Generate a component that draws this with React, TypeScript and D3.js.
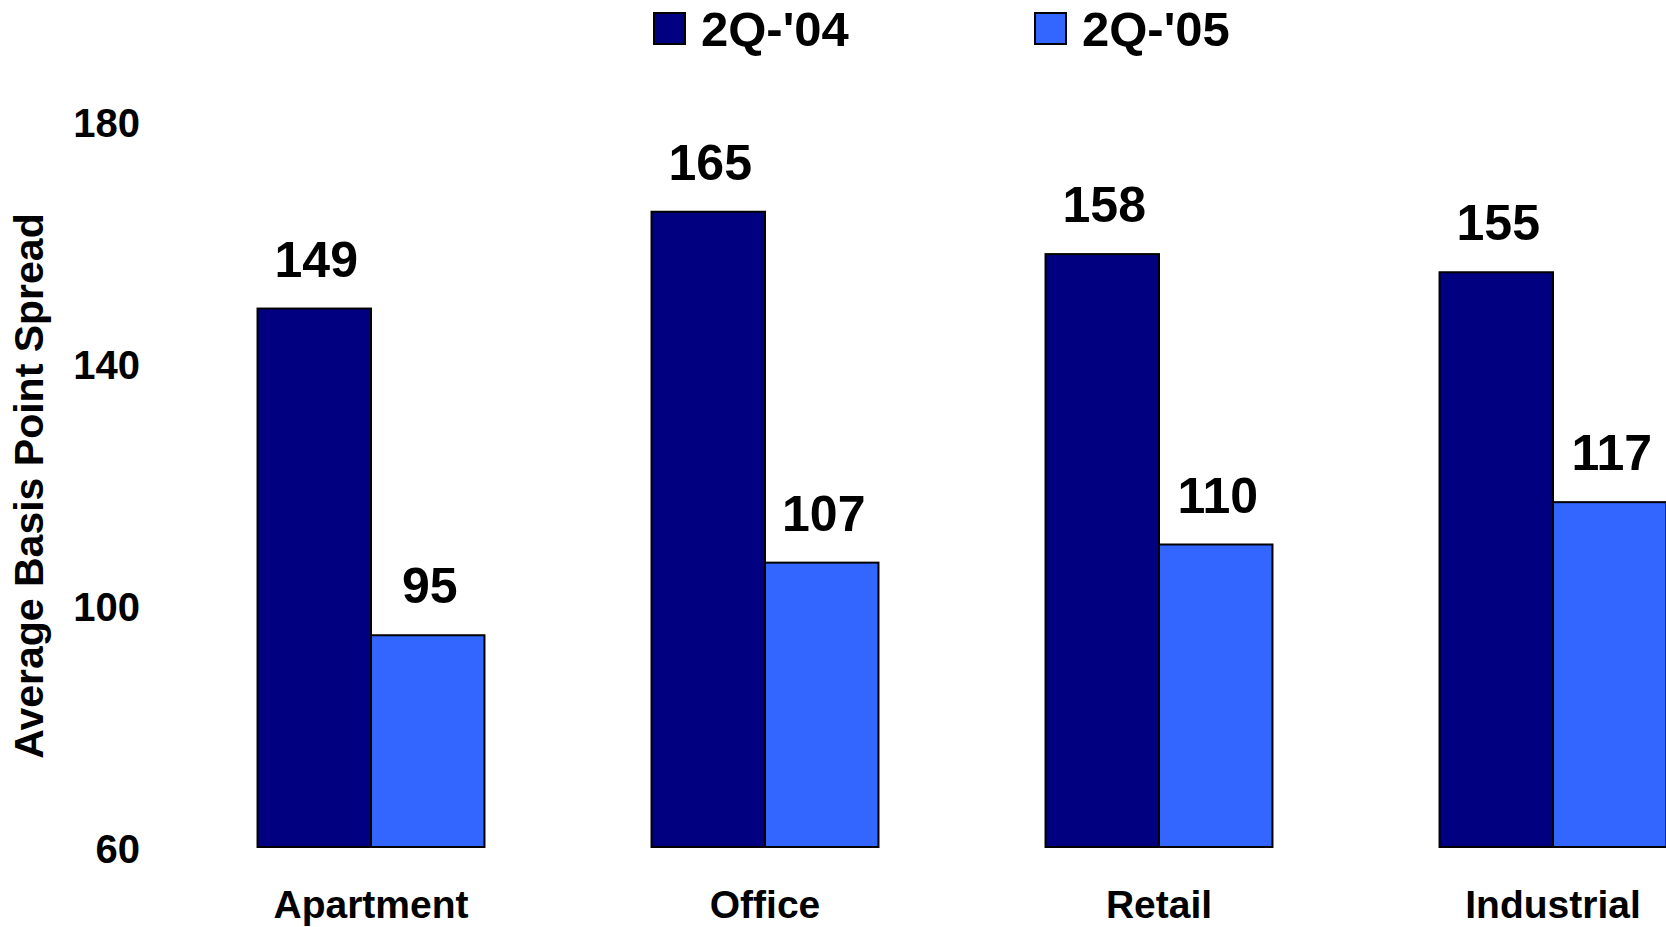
import React from "react";
import * as d3 from "d3";

const categories = ["Apartment", "Office", "Retail", "Industrial"];
const seriesNames = ["2Q-'04", "2Q-'05"];
const values2004 = [149, 165, 158, 155];
const values2005 = [95, 107, 110, 117];
const yTicks = [60, 100, 140, 180];
const colors = ["#000080", "#3366FF"];

const W = 1666;
const H = 927;
const FONT = "'Liberation Sans', Arial, Helvetica, sans-serif";

export default function App() {
  const x = d3
    .scaleBand<string>()
    .domain(categories)
    .range([174, 1750])
    .paddingInner(0.424)
    .paddingOuter(0.212);
  const xs = d3.scaleBand<string>().domain(seriesNames).range([0, x.bandwidth()]).padding(0);
  const y = d3.scaleLinear().domain([60, 180]).range([847, 121]);
  const series = [values2004, values2005];

  return (
    <svg
      width={W}
      height={H}
      style={{ position: "absolute", left: 0, top: 0, background: "#fff", overflow: "hidden" }}
      fontFamily={FONT}
      fontWeight="bold"
    >
      {/* legend */}
      {seriesNames.map((s, i) => {
        const lx = [654, 1035][i];
        return (
          <g key={s}>
            <rect x={lx} y={13} width={31} height={31} fill={colors[i]} stroke="#000" strokeWidth={2} />
            <text x={lx + 47} y={46} fontSize={49} fill="#000">
              {s}
            </text>
          </g>
        );
      })}

      {/* y axis title */}
      <text
        transform={`translate(43,486) rotate(-90)`}
        textAnchor="middle"
        fontSize={41}
        fill="#000"
      >
        Average Basis Point Spread
      </text>

      {/* y tick labels */}
      {yTicks.map((t) => (
        <text key={t} x={140} y={y(t) + 2} textAnchor="end" dominantBaseline="central" fontSize={40} fill="#000">
          {t}
        </text>
      ))}

      {/* bars */}
      {categories.map((c, ci) => (
        <g key={c} transform={`translate(${x(c)},0)`}>
          {series.map((vals, si) => {
            const bx = xs(seriesNames[si]) as number;
            const v = vals[ci];
            return (
              <g key={si}>
                <rect
                  x={bx}
                  y={y(v)}
                  width={xs.bandwidth()}
                  height={y(60) - y(v)}
                  fill={colors[si]}
                  stroke="#000"
                  strokeWidth={2}
                />
                <text
                  x={bx + xs.bandwidth() / 2 + 2}
                  y={y(v) - 32}
                  textAnchor="middle"
                  fontSize={50}
                  fill="#000"
                >
                  {v}
                </text>
              </g>
            );
          })}
          <text x={x.bandwidth() / 2} y={918} textAnchor="middle" fontSize={39} fill="#000">
            {c}
          </text>
        </g>
      ))}
    </svg>
  );
}
